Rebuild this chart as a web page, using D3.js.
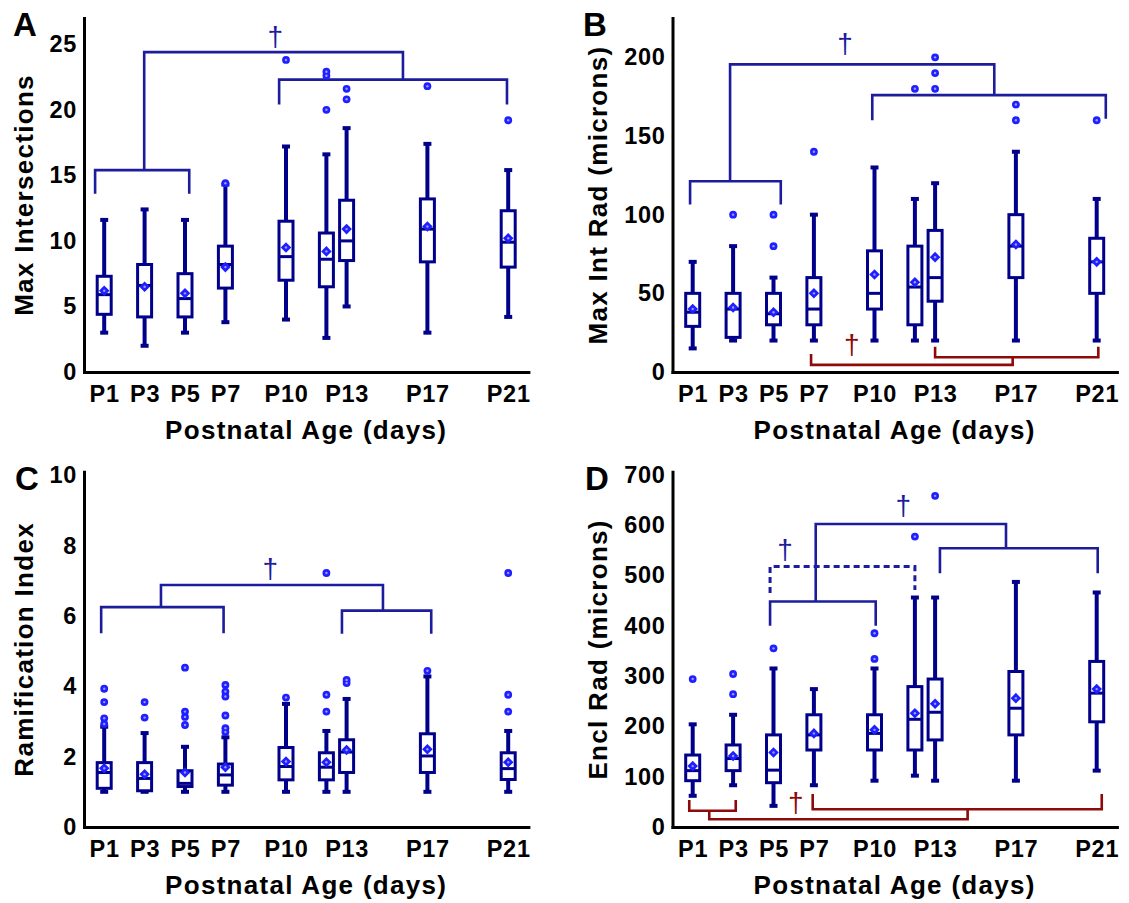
<!DOCTYPE html>
<html>
<head>
<meta charset="utf-8">
<script src="https://cdn.jsdelivr.net/npm/d3@7"></script>
<style>
  body { margin: 0; background: #fff; }
  svg text { font-family: "Liberation Sans", Arial, sans-serif; }
</style>
</head>
<body>
<svg id="fig" width="1129" height="903"></svg>
<script>
// Postnatal ages sampled (days) and the ages that get an axis label
const days = [1, 3, 5, 7, 10, 12, 13, 17, 21];
const tickDays = [1, 3, 5, 7, 10, 13, 17, 21];
const tickLabels = ["P1", "P3", "P5", "P7", "P10", "P13", "P17", "P21"];

// A: Max Intersections
const lowA  = [3.0, 2.0, 3.0, 3.8, 4.0, 2.6, 5.0, 3.0, 4.2];
const q1A   = [4.4, 4.2, 4.2, 6.4, 7.0, 6.5, 8.5, 8.4, 8.0];
const medA  = [5.9, 6.6, 5.6, 8.2, 8.8, 8.6, 10.0, 10.9, 9.9];
const q3A   = [7.3, 8.2, 7.5, 9.6, 11.5, 10.6, 13.1, 13.2, 12.3];
const highA = [11.6, 12.4, 11.6, 14.3, 17.2, 16.6, 18.6, 17.4, 15.4];
const meanA = [6.2, 6.5, 6.0, 8.0, 9.5, 9.2, 10.9, 11.1, 10.2];
const outA  = [[], [], [], [14.4], [23.8], [22.9, 22.6, 20.0], [21.6, 20.8], [21.8], [19.2]];
const yTicksA = [0, 5, 10, 15, 20, 25];

// B: Max Int Rad (microns)
const lowB  = [15, 20, 20, 20, 20, 20, 20, 20, 20];
const q1B   = [29, 22, 30, 30, 40, 30, 45, 60, 50];
const medB  = [38, 40, 37, 40, 50, 54, 60, 80, 70];
const q3B   = [50, 50, 50, 60, 77, 80, 90, 100, 85];
const highB = [70, 80, 60, 100, 130, 110, 120, 140, 110];
const meanB = [40, 41, 38, 50, 62, 57, 73, 81, 70];
const outB  = [[], [100], [100, 80], [140], [], [180], [200, 190, 180], [170, 160], [160]];
const yTicksB = [0, 50, 100, 150, 200];

// C: Ramification Index
const lowC  = [1, 1, 1, 1, 1, 1, 1, 1, 1];
const q1C   = [1.1, 1.03, 1.15, 1.19, 1.34, 1.34, 1.55, 1.55, 1.35];
const medC  = [1.55, 1.38, 1.24, 1.48, 1.72, 1.7, 2.13, 2.02, 1.66];
const q3C   = [1.83, 1.83, 1.6, 1.79, 2.26, 2.11, 2.48, 2.65, 2.11];
const highC = [2.85, 2.67, 2.28, 2.55, 3.5, 2.73, 3.64, 4.28, 2.73];
const meanC = [1.67, 1.5, 1.55, 1.7, 1.86, 1.84, 2.19, 2.21, 1.84];
const outC  = [[3.93, 3.55, 3.09, 2.93], [3.55, 3.11], [4.53, 3.28, 3.13, 2.9],
               [4.04, 3.85, 3.71, 3.17, 2.81, 2.7], [3.68], [7.22, 3.76, 3.28],
               [4.18, 4.09], [4.44], [7.22, 3.76, 3.28]];
const yTicksC = [0, 2, 4, 6, 8, 10];

// D: Encl Rad (microns)
const lowD  = [62, 83, 42, 83, 92, 102, 92, 92, 112];
const q1D   = [92, 112, 88, 153, 153, 153, 173, 183, 209];
const medD  = [112, 136, 113, 183, 186, 214, 228, 236, 266];
const q3D   = [143, 163, 183, 223, 223, 279, 294, 309, 329];
const highD = [204, 223, 315, 274, 315, 456, 456, 487, 466];
const meanD = [121, 141, 148, 186, 193, 226, 245, 256, 274];
const outD  = [[294], [304, 264], [355], [], [385, 334], [577], [658], [], []];
const yTicksD = [0, 100, 200, 300, 400, 500, 600, 700];

// Significance brackets in data units: [x0, x1, y, leg0, leg1, colour, dashed]
const bracketsA = [
  [0.55, 5.21, 15.4, 13.6, 13.6, "blue"],
  [9.66, 20.94, 22.3, 20.4, 20.4, "blue"],
  [2.98, 15.79, 24.4, 15.4, 22.3, "blue"]
];
const daggersA = [[9.47, 25.5, "blue"]];

const bracketsB = [
  [0.87, 5.36, 121.2, 106.4, 106.4, "blue"],
  [9.89, 21.45, 176, 160, 161, "blue"],
  [2.85, 15.93, 195.5, 121.2, 176, "blue"],
  [13.0, 21.08, 9.4, 16.1, 16.1, "red"],
  [6.86, 16.84, 4.5, 11.5, 9.4, "red"]
];
const daggersB = [[8.54, 208, "blue"], [8.87, 16.6, "red"]];

const bracketsC = [
  [0.85, 6.91, 6.25, 5.51, 5.51, "blue"],
  [12.77, 17.19, 6.15, 5.49, 5.49, "blue"],
  [3.81, 14.8, 6.88, 6.25, 6.15, "blue"]
];
const daggersC = [[9.22, 7.31, "blue"]];

const bracketsD = [
  [4.83, 12.0, 517.5, 465, 471, "blue", true],
  [4.83, 10.06, 448, 400, 400, "blue"],
  [13.24, 21.05, 554, 504, 504, "blue"],
  [7.09, 16.51, 602, 448, 554, "blue"],
  [0.83, 3.13, 32.4, 53.7, 53.7, "red"],
  [6.94, 21.25, 35.2, 65.6, 65.6, "red"],
  [1.82, 14.61, 15.3, 32.4, 35.2, "red"]
];
const daggersD = [[5.57, 549, "blue"], [11.43, 636, "blue"], [6.1, 45.7, "red"]];

const BOX = "#00008b";
const DOT = "#1f1fff";
const INK = { blue: "#1c1c9c", red: "#8e0a0a" };

const panels = [
  { letter: "A", title: "Max Intersections", left: 84, top: 18, bottom: 372, yMax: 27, ticks: yTicksA,
    lo: lowA, q1: q1A, med: medA, q3: q3A, hi: highA, mean: meanA, out: outA,
    brackets: bracketsA, daggers: daggersA, titleOff: 51.5, letterX: 13 },
  { letter: "B", title: "Max Int Rad (microns)", left: 672.5, top: 18, bottom: 372, yMax: 225, ticks: yTicksB,
    lo: lowB, q1: q1B, med: medB, q3: q3B, hi: highB, mean: meanB, out: outB,
    brackets: bracketsB, daggers: daggersB, titleOff: 65.5, letterX: 583 },
  { letter: "C", title: "Ramification Index", left: 84, top: 471.7, bottom: 827, yMax: 10.1, ticks: yTicksC,
    lo: lowC, q1: q1C, med: medC, q3: q3C, hi: highC, mean: meanC, out: outC,
    brackets: bracketsC, daggers: daggersC, titleOff: 51.5, letterX: 15 },
  { letter: "D", title: "Encl Rad (microns)", left: 672.5, top: 471.7, bottom: 827, yMax: 706, ticks: yTicksD,
    lo: lowD, q1: q1D, med: medD, q3: q3D, hi: highD, mean: meanD, out: outD,
    brackets: bracketsD, daggers: daggersD, titleOff: 65.5, letterX: 585 }
];

const svg = d3.select("#fig");
const DAY_PX = 20.2;   // horizontal spacing per postnatal day
const BOX_HALF = 7;

panels.forEach(p => {
  const x = d3.scaleLinear().domain([0, 22]).range([p.left, p.left + 22 * DAY_PX]);
  const y = d3.scaleLinear().domain([0, p.yMax]).range([p.bottom, p.top]);
  const g = svg.append("g");

  // axes (no tick marks, just spines and labels)
  const ax = g.append("g").attr("transform", `translate(${p.left},0)`)
    .call(d3.axisLeft(y).tickValues(p.ticks).tickSize(0).tickPadding(7));
  const bx = g.append("g").attr("transform", `translate(0,${p.bottom})`)
    .call(d3.axisBottom(x).tickValues(tickDays).tickFormat((d, i) => tickLabels[i]).tickSize(0).tickPadding(13));
  [ax, bx].forEach(a => {
    a.select(".domain").attr("stroke", "#000").attr("stroke-width", 3).attr("stroke-linecap", "square");
    a.selectAll("text").attr("font-size", 23.5).attr("font-weight", "bold")
      .attr("fill", "#000").attr("letter-spacing", 0.7)
      .style("font-family", '"Liberation Sans", Arial, sans-serif');
  });

  // axis titles
  g.append("text")
    .attr("transform", `translate(${p.left - p.titleOff},${(p.top + p.bottom) / 2}) rotate(-90)`)
    .attr("text-anchor", "middle").attr("font-size", 26).attr("font-weight", "bold")
    .attr("letter-spacing", 1.3).text(p.title);
  g.append("text")
    .attr("x", (x.range()[0] + x.range()[1]) / 2).attr("y", p.bottom + 67)
    .attr("text-anchor", "middle").attr("font-size", 26).attr("font-weight", "bold")
    .attr("letter-spacing", 1.3).text("Postnatal Age (days)");

  // panel letter
  g.append("text").attr("x", p.letterX).attr("y", p.top + 18)
    .attr("font-size", 33).attr("font-weight", "bold").text(p.letter);

  // significance brackets
  g.selectAll("path.bracket").data(p.brackets).join("path")
    .attr("class", "bracket")
    .attr("d", b => `M${x(b[0])},${y(b[3])}V${y(b[2])}H${x(b[1])}V${y(b[4])}`)
    .attr("fill", "none").attr("stroke", b => INK[b[5]])
    .attr("stroke-width", b => b[6] ? 3 : 2.6)
    .attr("stroke-dasharray", b => b[6] ? "6,4" : null);

  g.selectAll("text.dagger").data(p.daggers).join("text")
    .attr("class", "dagger")
    .attr("x", d => x(d[0])).attr("y", d => y(d[1])).attr("dy", "0.3em")
    .attr("text-anchor", "middle").attr("font-size", 28)
    .attr("fill", d => INK[d[2]]).text("\u2020");

  // box plots
  const stats = days.map((d, i) => ({
    day: d, lo: p.lo[i], q1: p.q1[i], med: p.med[i], q3: p.q3[i], hi: p.hi[i], mean: p.mean[i], out: p.out[i]
  }));
  const bg = g.selectAll("g.box").data(stats).join("g").attr("class", "box");

  bg.append("line")
    .attr("x1", s => x(s.day)).attr("x2", s => x(s.day))
    .attr("y1", s => y(s.lo)).attr("y2", s => y(s.hi))
    .attr("stroke", BOX).attr("stroke-width", 4);
  ["lo", "hi"].forEach(k => {
    bg.append("line")
      .attr("x1", s => x(s.day) - 4).attr("x2", s => x(s.day) + 4)
      .attr("y1", s => y(s[k])).attr("y2", s => y(s[k]))
      .attr("stroke", BOX).attr("stroke-width", 4);
  });
  bg.append("rect")
    .attr("x", s => x(s.day) - BOX_HALF).attr("width", BOX_HALF * 2)
    .attr("y", s => y(s.q3)).attr("height", s => y(s.q1) - y(s.q3))
    .attr("fill", "#fff").attr("stroke", BOX).attr("stroke-width", 3);
  bg.append("line")
    .attr("x1", s => x(s.day) - BOX_HALF).attr("x2", s => x(s.day) + BOX_HALF)
    .attr("y1", s => y(s.med)).attr("y2", s => y(s.med))
    .attr("stroke", BOX).attr("stroke-width", 3);

  // means (diamonds)
  bg.append("path")
    .attr("d", d3.symbol(d3.symbolSquare, 56)())
    .attr("transform", s => `translate(${x(s.day)},${y(s.mean)}) rotate(45)`)
    .attr("fill", DOT);
  bg.append("circle")
    .attr("cx", s => x(s.day)).attr("cy", s => y(s.mean)).attr("r", 1.2)
    .attr("fill", "#9a9aff");

  // outliers
  const pts = stats.flatMap(s => s.out.map(v => ({ day: s.day, v })));
  g.selectAll("circle.out").data(pts).join("circle").attr("class", "out")
    .attr("cx", d => x(d.day)).attr("cy", d => y(d.v)).attr("r", 3.9).attr("fill", DOT);
  g.selectAll("circle.outc").data(pts).join("circle").attr("class", "outc")
    .attr("cx", d => x(d.day)).attr("cy", d => y(d.v)).attr("r", 1.2).attr("fill", "#9a9aff");
});
</script>
</body>
</html>
